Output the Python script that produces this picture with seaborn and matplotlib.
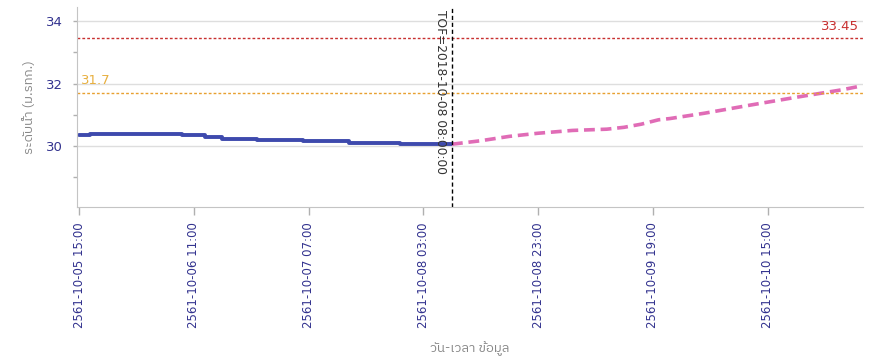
import matplotlib
matplotlib.use("Agg")
import matplotlib.pyplot as plt
import matplotlib.transforms as mtransforms
from matplotlib.ticker import MultipleLocator
import pandas as pd
import seaborn as sns

# observed water level (step changes), forecast and thresholds
obs_times = ["2018-10-05 15:00", "2018-10-05 17:00", "2018-10-06 09:00", "2018-10-06 13:00",
             "2018-10-06 16:00", "2018-10-06 22:00", "2018-10-07 06:00", "2018-10-07 14:00",
             "2018-10-07 23:00", "2018-10-08 08:00"]
obs_level = [30.35, 30.39, 30.34, 30.29, 30.24, 30.19, 30.15, 30.10, 30.07, 30.06]

fc_times = ["2018-10-08 08:00", "2018-10-08 13:00", "2018-10-08 18:00", "2018-10-08 23:00",
            "2018-10-09 05:00", "2018-10-09 11:00", "2018-10-09 14:00", "2018-10-09 17:00",
            "2018-10-09 20:00", "2018-10-09 22:00", "2018-10-10 04:00", "2018-10-10 12:00",
            "2018-10-10 20:00", "2018-10-11 04:00", "2018-10-11 07:00"]
fc_level = [30.06, 30.17, 30.31, 30.41, 30.50, 30.54, 30.60, 30.70, 30.84, 30.88,
            31.05, 31.31, 31.56, 31.80, 31.91]

tof = "2018-10-08 08:00"
warn_level = 31.7
bank_level = 33.45

tick_times = ["2018-10-05 15:00", "2018-10-06 11:00", "2018-10-07 07:00", "2018-10-08 03:00",
              "2018-10-08 23:00", "2018-10-09 19:00", "2018-10-10 15:00"]
tick_labels = ["2561-10-05 15:00", "2561-10-06 11:00", "2561-10-07 07:00", "2561-10-08 03:00",
               "2561-10-08 23:00", "2561-10-09 19:00", "2561-10-10 15:00"]

obs_df = pd.DataFrame({"time": pd.to_datetime(obs_times), "level": obs_level})
fc_df = pd.DataFrame({"time": pd.to_datetime(fc_times), "level": fc_level})
tof_t = pd.Timestamp(tof)

sns.set_style("white")
plt.rcParams['font.family'] = ['DejaVu Sans', 'IBM Plex Sans Thai']
thai = ['IBM Plex Sans Thai', 'DejaVu Sans']
navy = "#33338f"

fig = plt.figure(figsize=(8.75, 3.62), dpi=100)
ax = fig.add_axes([0.088, 0.428, 0.898, 0.553])

sns.lineplot(data=obs_df, x="time", y="level", ax=ax, color="#3e4aad",
             linewidth=2.8, drawstyle="steps-post")
sns.lineplot(data=fc_df, x="time", y="level", ax=ax, color="#e06cb6",
             linewidth=2.6, dashes=False, linestyle=(0, (3, 1.6)))

ax.axhline(bank_level, color="#c83030", linewidth=1, linestyle=(0, (2, 1.5)))
ax.axhline(warn_level, color="#e8a030", linewidth=1, linestyle=(0, (2, 1.5)))
ax.axvline(tof_t, color="black", linewidth=1, linestyle=(0, (3, 2)))

start = pd.Timestamp(tick_times[0])
ax.set_xlim(start - pd.Timedelta(minutes=21), start + pd.Timedelta(hours=136.6))
ax.set_ylim(28.05, 34.45)

ax.set_xticks(pd.to_datetime(tick_times))
ax.set_xticklabels(tick_labels, rotation=90)
ax.set_yticks([30, 32, 34])
ax.yaxis.set_minor_locator(MultipleLocator(1))
ax.grid(axis="y", which="major", color="#dedede", linewidth=1)
ax.grid(axis="x", visible=False)

for s in ["top", "right"]:
    ax.spines[s].set_visible(False)
for s in ["left", "bottom"]:
    ax.spines[s].set_color("#c4c4c4")
ax.tick_params(axis="x", colors="#b0b0b0", labelcolor=navy, labelsize=8.5,
               length=6, width=1, pad=5, bottom=True)
ax.tick_params(axis="y", which="both", colors="#b0b0b0", labelcolor=navy, labelsize=9.5,
               length=3, width=1, pad=7, left=True)

# threshold labels and time of forecast
ax_y = mtransforms.blended_transform_factory(ax.transAxes, ax.transData)
ax.text(1.0, bank_level, "33.45", color="#c83030", fontsize=9.5, ha="right", va="bottom",
        transform=mtransforms.offset_copy(ax_y, fig=fig, x=-3, y=4, units="points"))
ax.text(0.005, warn_level, "31.7", color="#e8b040", fontsize=9.5, ha="left", va="bottom",
        transform=mtransforms.offset_copy(ax_y, fig=fig, x=0, y=4, units="points"))
ax.text(tof_t, 0.985, "TOF=2018-10-08 08:00:00", rotation=270, color="#333333",
        fontsize=8.8, ha="right", va="top",
        transform=mtransforms.offset_copy(
            mtransforms.blended_transform_factory(ax.transData, ax.transAxes),
            fig=fig, x=-3.5, y=0, units="points"))

ax.set_xlabel("วัน-เวลา ข้อมูล", color="#888888", fontsize=9.5, family=thai)
ax.xaxis.set_label_coords(0.5, -0.67)
ax.set_ylabel("ระดับน้ำ (ม.รทก.)", color="#888888", fontsize=9.5, family=thai)
ax.yaxis.set_label_coords(-0.052, 0.5)

fig.savefig("out.png", dpi=100)
